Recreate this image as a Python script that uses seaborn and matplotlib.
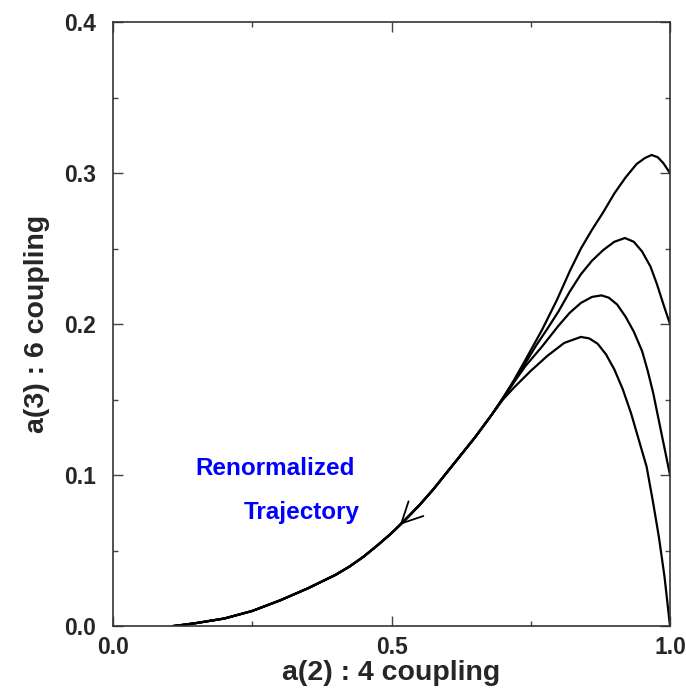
import matplotlib
matplotlib.use("Agg")
import matplotlib.pyplot as plt
import seaborn as sns
import pandas as pd

sns.set_style("ticks")
plt.rcParams['font.family'] = ['Liberation Sans', 'DejaVu Sans']
plt.rcParams['font.weight'] = 'bold'

# common renormalized trajectory (shared by all four flows)
traj_x = [0.108, 0.13, 0.15, 0.175, 0.2, 0.225, 0.25, 0.275, 0.3, 0.325, 0.35, 0.375,
          0.4, 0.425, 0.45, 0.475, 0.5, 0.525, 0.55, 0.575, 0.6, 0.625, 0.65, 0.665, 0.68]
traj_y = [0.0, 0.001, 0.002, 0.0035, 0.005, 0.0075, 0.010, 0.0135, 0.017, 0.021, 0.025, 0.0295,
          0.034, 0.0395, 0.046, 0.0535, 0.0615, 0.0705, 0.080, 0.0905, 0.102, 0.1135, 0.125, 0.1325, 0.140]

# branches, ending at a(3) = 0.3, 0.2, 0.1, 0.0 on a(2) = 1
b1_x = [0.70, 0.72, 0.74, 0.77, 0.797, 0.82, 0.84, 0.86, 0.88, 0.90, 0.92, 0.94,
        0.955, 0.967, 0.978, 0.988, 1.0]
b1_y = [0.151, 0.163, 0.176, 0.196, 0.216, 0.235, 0.250, 0.2625, 0.274, 0.2865, 0.297, 0.306,
        0.310, 0.312, 0.3105, 0.3066, 0.300]

b2_x = [0.70, 0.72, 0.74, 0.76, 0.78, 0.80, 0.82, 0.84, 0.86, 0.88, 0.90, 0.919,
        0.935, 0.95, 0.965, 0.976, 0.99, 1.0]
b2_y = [0.151, 0.162, 0.174, 0.186, 0.197, 0.2085, 0.2215, 0.233, 0.242, 0.249, 0.2545, 0.257,
        0.2545, 0.248, 0.238, 0.227, 0.211, 0.200]

b3_x = [0.70, 0.72, 0.74, 0.77, 0.80, 0.82, 0.84, 0.86, 0.877, 0.89, 0.905, 0.92,
        0.935, 0.95, 0.96, 0.97, 0.98, 0.99, 1.0]
b3_y = [0.1505, 0.1615, 0.172, 0.185, 0.199, 0.2075, 0.214, 0.218, 0.219, 0.2175, 0.213, 0.205,
        0.195, 0.182, 0.169, 0.154, 0.136, 0.118, 0.100]

b4_x = [0.70, 0.72, 0.75, 0.78, 0.81, 0.84, 0.855, 0.87, 0.885, 0.90, 0.915, 0.93,
        0.945, 0.958, 0.97, 0.98, 0.99, 1.0]
b4_y = [0.150, 0.158, 0.169, 0.179, 0.1875, 0.1915, 0.1905, 0.187, 0.180, 0.170, 0.157, 0.141,
        0.122, 0.1055, 0.081, 0.059, 0.033, 0.0]

branches = [(b1_x, b1_y), (b2_x, b2_y), (b3_x, b3_y), (b4_x, b4_y)]

fig = plt.figure(figsize=(6.86, 6.91), dpi=100)
ax = fig.add_axes([0.1647, 0.094, 0.812, 0.874])

for bx, by in branches:
    df = pd.DataFrame({'x': traj_x + bx, 'y': traj_y + by})
    sns.lineplot(data=df, x='x', y='y', sort=False, color='black', lw=1.6, ax=ax)

# arrow on the trajectory
ax.annotate('', xy=(0.515, 0.067), xytext=(0.55, 0.080),
            arrowprops=dict(arrowstyle='->, head_length=0.6, head_width=0.3',
                            color='black', lw=1.3, mutation_scale=25,
                            shrinkA=0, shrinkB=0))

ax.text(0.291, 0.1046, 'Renormalized', color='#0000ff', fontsize=17.5,
        fontweight='bold', ha='center', va='center')
ax.text(0.339, 0.0755, 'Trajectory', color='#0000ff', fontsize=17.5,
        fontweight='bold', ha='center', va='center')

ax.set_xlim(0, 1)
ax.set_ylim(0, 0.4)
ax.set_xticks([0.0, 0.5, 1.0])
ax.set_xticklabels(['0.0', '0.5', '1.0'])
ax.set_xticks([0.25, 0.75], minor=True)
ax.set_yticks([0.0, 0.1, 0.2, 0.3, 0.4])
ax.set_yticklabels(['0.0', '0.1', '0.2', '0.3', '0.4'])
ax.set_yticks([0.05, 0.15, 0.25, 0.35], minor=True)
ax.tick_params(which='both', direction='in', top=True, right=True,
               labelsize=16.5, width=1.0, color='#444444')
ax.tick_params(axis='x', which='major', length=7, pad=7)
ax.tick_params(axis='y', which='major', length=7, pad=12)
ax.tick_params(which='minor', length=3.5)
for s in ax.spines.values():
    s.set_linewidth(1.2)
    s.set_color('#333333')

ax.set_xlabel('a(2) : 4 coupling', fontsize=20.5, fontweight='bold', labelpad=1)
ax.set_ylabel('a(3) : 6 coupling', fontsize=20.5, fontweight='bold', labelpad=10)

fig.savefig('out.png', dpi=100)
